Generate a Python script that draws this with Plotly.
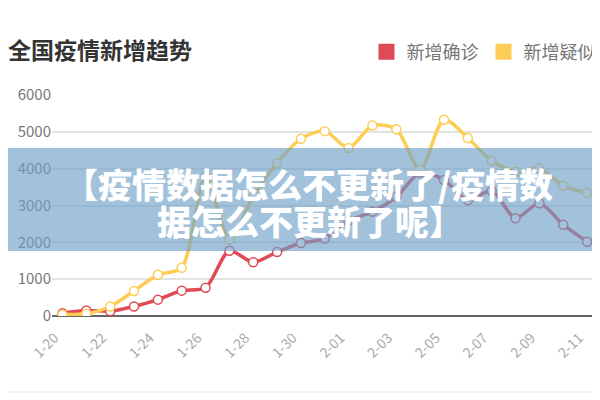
import plotly.graph_objects as go

dates = ["1-20", "1-21", "1-22", "1-23", "1-24", "1-25", "1-26", "1-27", "1-28", "1-29",
         "1-30", "1-31", "2-01", "2-02", "2-03", "2-04", "2-05", "2-06", "2-07", "2-08",
         "2-09", "2-10", "2-11"]
confirmed = [77, 149, 131, 259, 444, 688, 769, 1771, 1459, 1737, 1982, 2102, 2590, 2829,
             3235, 3887, 3694, 3143, 3399, 2656, 3062, 2478, 2015]
suspected = [40, 60, 257, 680, 1118, 1309, 3806, 2077, 3248, 4148, 4812, 5019, 4562, 5173,
             5072, 3971, 5328, 4833, 4214, 3916, 4008, 3536, 3342]
tick_labels = dates[::2]
y_ticks = [0, 1000, 2000, 3000, 4000, 5000, 6000]

RED = "#e04a55"
YELLOW = "#fdcd55"
FONT = "Noto Sans CJK SC"

# the page body has an 8px margin, so the figure is laid out 8px up/left
OFF = 8
W, H = 600 - OFF, 400 - OFF

fig = go.Figure()
for name, vals, col in [("新增确诊", confirmed, RED), ("新增疑似", suspected, YELLOW)]:
    fig.add_trace(go.Scatter(
        x=dates, y=vals, mode="lines+markers", name=name, showlegend=False,
        line=dict(color=col, width=3.5, shape="spline", smoothing=0.8),
        marker=dict(size=9, color="white", line=dict(color=col, width=1.5)),
    ))
    fig.add_trace(go.Scatter(
        x=[None], y=[None], mode="markers", name=name, showlegend=True,
        marker=dict(symbol="square", size=18, color=col),
    ))

# plot area in page pixels: x 52..598, y 95..316
L, R, T, B = 52 - OFF, 600 - 598, 95 - OFF, 400 - 316
PW = W - L - R
PH = H - T - B

def px(xp):
    return (xp - OFF - L) / PW

def py(yp):
    return (H - B - (yp - OFF)) / PH

fig.update_layout(
    width=W, height=H,
    margin=dict(l=L, r=R, t=T, b=B, autoexpand=False),
    paper_bgcolor="white", plot_bgcolor="white",
    font=dict(family=FONT),
    title=dict(text="全国疫情新增趋势", xref="container", yref="container",
               x=0, xanchor="left", y=1 - (51 - OFF) / H, yanchor="middle",
               font=dict(size=23, color="#333333", family=FONT, weight="bold")),
    legend=dict(orientation="h", xref="container", yref="container",
                x=(389.5 - OFF - 23) / W, xanchor="left", y=1 - (50 - OFF + 2) / H,
                yanchor="middle",
                font=dict(size=18, color="#777777", family=FONT),
                itemwidth=30, tracegroupgap=0, bgcolor="rgba(0,0,0,0)"),
    xaxis=dict(type="category", range=[-0.44, 22.46], tickmode="array",
               tickvals=tick_labels, ticktext=tick_labels, tickangle=-45,
               tickfont=dict(size=14, color="#aaaaaa"), showgrid=False,
               showline=False, ticks="", automargin=False,
               ticklabelstandoff=10, ticklabelshift=-8),
    yaxis=dict(range=[0, 6000], tickvals=y_ticks, showgrid=True, gridcolor="#e3e3e3",
               gridwidth=1.5, tickfont=dict(size=15, color="#777777"),
               zeroline=True, zerolinecolor="#666666", zerolinewidth=1.5,
               ticks="", showline=False, automargin=False),
    shapes=[
        dict(type="rect", xref="paper", yref="paper", x0=px(0), x1=px(600),
             y0=py(251), y1=py(148), fillcolor="rgba(110,160,200,0.64)",
             line=dict(width=0), layer="above"),
        dict(type="line", xref="paper", yref="paper", x0=px(0), x1=px(600),
             y0=py(392), y1=py(392), line=dict(color="#e8e8e8", width=1)),
    ],
    annotations=[
        dict(text="【疫情数据怎么不更新了/疫情数", xref="paper", yref="paper",
             x=px(308), y=py(183), showarrow=False, xanchor="center", yanchor="middle",
             font=dict(size=34, color="white", family=FONT, weight=900)),
        dict(text="据怎么不更新了呢】", xref="paper", yref="paper",
             x=px(310), y=py(220), showarrow=False, xanchor="center", yanchor="middle",
             font=dict(size=34, color="white", family=FONT, weight=900)),
    ],
)

fig.write_html("out.html")
